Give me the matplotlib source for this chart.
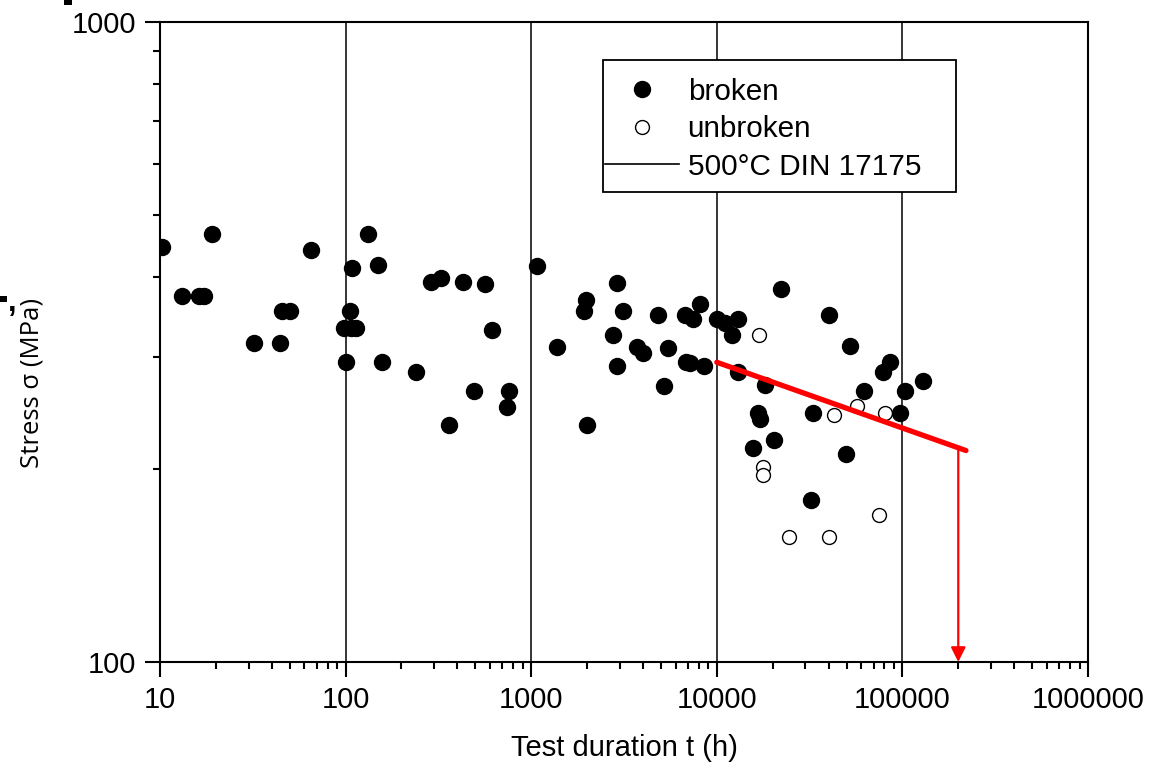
import matplotlib
matplotlib.use("Agg")
import matplotlib.pyplot as plt
from matplotlib.lines import Line2D
from matplotlib.patches import Rectangle

# ── data ──────────────────────────────────────────────────────────────────────
broken_t = [10.25, 19.1, 13.1, 16.2, 17.3, 32.1, 44.3, 45.2, 50.2, 65.1,
            101, 158, 108, 132, 149, 105, 98, 106.5, 114, 240,
            289, 327, 427, 564, 617, 492, 762, 743, 361, 1070,
            1372, 2888, 1966, 1932, 3135, 4838, 6742, 7418, 8121, 10060,
            11070, 13060, 12030, 2748, 3729, 4018, 5459, 2888, 6800, 7172,
            8563, 5213, 2006, 12960, 18180, 16740, 17090, 33110, 15610, 20400,
            22100, 40230, 32060, 52210, 85770, 78920, 129600, 62330, 103300, 97070,
            49470]
broken_s = [445, 466, 373, 373, 373, 315, 315, 353, 353, 441,
            294, 294, 412, 466, 417, 353, 333, 333, 333, 284,
            392, 398, 392, 390, 330, 265, 265, 250, 235, 416,
            311, 391, 368, 353, 353, 349, 348, 343, 363, 343,
            338, 343, 324, 324, 311, 304, 309, 290, 294, 293,
            290, 270, 235, 284, 271, 245, 240, 245, 216, 222,
            383, 348, 179, 312, 294, 284, 275, 265, 265, 245,
            211]

unbroken_t = [16940, 42970, 56730, 80590, 17630, 17630, 74780, 24490, 40380]
unbroken_s = [324, 243, 251, 245, 202, 196, 170, 157, 157]

din_t = [1.0e4, 2.2e5]
din_s = [294, 214]
design_t = 2.0e5

x_ticks = [10, 100, 1000, 10000, 100000, 1000000]
y_ticks = [100, 1000]

SANS = ["Liberation Sans", "DejaVu Sans"]

fig = plt.figure(figsize=(11.57, 7.82), dpi=100)
ax = fig.add_axes([160 / 1157, 1 - 662 / 782, 928 / 1157, 640 / 782])

ax.set_xscale("log")
ax.set_yscale("log")
ax.set_xlim(10, 1e6)
ax.set_ylim(100, 1000)

# ── vertical grid at decades ──────────────────────────────────────────────────
ax.grid(axis="x", which="major", color="black", lw=1.1, zorder=1)
ax.grid(axis="y", which="both", visible=False)

# ── data points ───────────────────────────────────────────────────────────────
ax.plot(broken_t, broken_s, "o", ms=11.5, mfc="black", mec="black", zorder=3)
ax.plot(unbroken_t, unbroken_s, "o", ms=10, mfc="white", mec="black",
        mew=1.0, zorder=3)

# ── DIN 17175 line and design arrow ───────────────────────────────────────────
ax.plot(din_t, din_s, "-", color="#ff0000", lw=3.8, solid_capstyle="round",
        zorder=4)
ax.annotate("", xy=(design_t, 100), xytext=(design_t, din_s[-1] + 1),
            arrowprops=dict(arrowstyle="-|>", color="#ff0000", lw=1.6,
                            mutation_scale=22, shrinkA=0, shrinkB=0),
            zorder=4, annotation_clip=False)

# ── axes styling ──────────────────────────────────────────────────────────────
for sp in ax.spines.values():
    sp.set_linewidth(1.5)
ax.set_xticks(x_ticks)
ax.set_xticklabels([str(v) for v in x_ticks])
ax.set_yticks(y_ticks)
ax.set_yticklabels([str(v) for v in y_ticks])
ax.yaxis.set_minor_formatter(plt.NullFormatter())
ax.xaxis.set_minor_formatter(plt.NullFormatter())
ax.tick_params(which="major", direction="out", length=11, width=1.5,
               top=False, right=False)
ax.tick_params(which="minor", direction="out", length=5, width=1.5,
               top=False, right=False)
ax.tick_params(axis="x", which="major", pad=6)
ax.tick_params(axis="y", which="major", pad=6)
for lab in ax.get_xticklabels() + ax.get_yticklabels():
    lab.set_family(SANS)
    lab.set_fontsize(21)

ax.set_xlabel("Test duration t (h)", family=SANS, fontsize=21)
ax.xaxis.set_label_coords(0.50, -0.112)
ax.set_ylabel("Stress σ (MPa)", family=["Open Sans", "DejaVu Sans"],
              fontsize=18.5)
ax.yaxis.set_label_coords(-0.124, 0.436)

# ── legend with its own box ───────────────────────────────────────────────────
handles = [
    Line2D([], [], ls="none", marker="o", ms=11.5, mfc="black", mec="black"),
    Line2D([], [], ls="none", marker="o", ms=10, mfc="white", mec="black",
           mew=1.0),
    Line2D([], [], color="black", lw=1.2),
]
leg = ax.legend(handles, ["broken", "unbroken", "500°C DIN 17175"],
                loc="upper left", bbox_to_anchor=(0.4795, 0.913),
                frameon=False, borderpad=0, borderaxespad=0,
                handlelength=2.5, handletextpad=0.28, labelspacing=0.32,
                prop={"family": SANS, "size": 21.4})
leg.set_zorder(6)
ax.add_patch(Rectangle((0.4774, 0.7344), 0.3804, 0.2062,
                       transform=ax.transAxes, fill=True, fc="white",
                       ec="black", lw=1.3, zorder=5))

# ── cut-off fragments from a neighbouring panel ───────────────────────────────
fig.text(12 / 1157, 1 - 303 / 782, ",", fontsize=22, fontweight="bold",
         ha="center", va="center", family="Liberation Sans")
fig.patches.append(Rectangle((0, 1 - 302 / 782), 7 / 1157, 6 / 782,
                             transform=fig.transFigure, fc="black", ec="none"))
fig.patches.append(Rectangle((64 / 1157, 1 - 5 / 782), 8 / 1157, 5 / 782,
                             transform=fig.transFigure, fc="black", ec="none"))

fig.savefig("out.png", dpi=100)
